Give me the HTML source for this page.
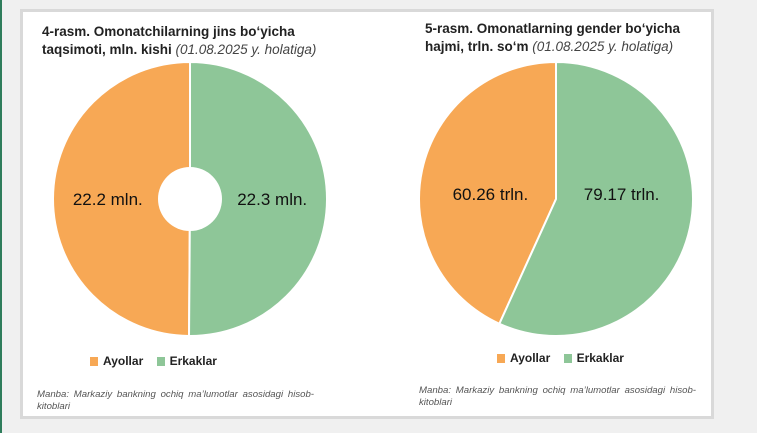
<!DOCTYPE html>
<html><head><meta charset="utf-8"><style>
body{margin:0;width:757px;height:433px;background:#f0f0f0;position:relative;overflow:hidden;font-family:"Liberation Sans",sans-serif}
#bar{position:absolute;left:0;top:0;width:2px;height:433px;background:#2f7d5c}
#panel{position:absolute;left:20px;top:9px;width:688px;height:404px;background:#fff;border:3px solid #d9d9d9}
.t{position:absolute;font-size:13.5px;font-weight:bold;color:#222;line-height:18px}
.t i{font-weight:normal;color:#444}
.src{position:absolute;font-size:9.6px;font-style:italic;color:#555;line-height:12px;width:277px;text-align:justify}
.leg{position:absolute;font-size:12px;font-weight:bold;color:#222}
.sw{display:inline-block;width:8px;height:9px;margin-right:5px;vertical-align:-1px}
svg{position:absolute;left:0;top:0}
</style></head><body>
<div id="bar"></div>
<div id="panel"></div>
<div class="t" style="left:42px;top:23px">4-rasm. Omonatchilarning jins bo‘yicha<br>taqsimoti, mln. kishi <i>(01.08.2025 y. holatiga)</i></div>
<div class="t" style="left:425px;top:20px">5-rasm. Omonatlarning gender bo‘yicha<br>hajmi, trln. so‘m <i>(01.08.2025 y. holatiga)</i></div>
<svg id="chart" width="757" height="433"></svg>
<div class="leg" style="left:90px;top:354px"><span class="sw" style="background:#f7a855"></span>Ayollar&nbsp;&nbsp;&nbsp;&nbsp;<span class="sw" style="background:#8ec698"></span>Erkaklar</div>
<div class="leg" style="left:497px;top:351px"><span class="sw" style="background:#f7a855"></span>Ayollar&nbsp;&nbsp;&nbsp;&nbsp;<span class="sw" style="background:#8ec698"></span>Erkaklar</div>
<div class="src" style="left:37px;top:389px">Manba: Markaziy bankning ochiq ma’lumotlar asosidagi hisob-kitoblari</div>
<div class="src" style="left:419px;top:385px">Manba: Markaziy bankning ochiq ma’lumotlar asosidagi hisob-kitoblari</div>
<script>
const categories=["Ayollar","Erkaklar"];
const colors=["#f7a855","#8ec698"];
const leftValues=[22.2,22.3];
const leftLabels=["22.2 mln.","22.3 mln."];
const rightValues=[60.26,79.17];
const rightLabels=["60.26 trln.","79.17 trln."];
const svg=document.getElementById('chart');
const NS="http://www.w3.org/2000/svg";
function pie(cx,cy,r,hole,vals,labels,name,ly,lf){
  const tot=vals.reduce((a,b)=>a+b,0);
  const angs=[];
  vals.forEach((v,i)=>{
    let start,end;
    if(i===0){start=-vals[0]/tot*2*Math.PI;end=0;}else{start=0;end=2*Math.PI-vals[0]/tot*2*Math.PI;}
    angs.push([start,end]);
    const p=(a)=>[cx+r*Math.sin(a),cy-r*Math.cos(a)];
    const [x1,y1]=p(start),[x2,y2]=p(end);
    const large=(end-start)>Math.PI?1:0;
    const path=document.createElementNS(NS,'path');
    path.setAttribute('d',`M${cx},${cy}L${x1},${y1}A${r},${r} 0 ${large} 1 ${x2},${y2}Z`);
    path.setAttribute('fill',colors[i]);
    path.setAttribute('stroke','#fff');
    path.setAttribute('stroke-width','2');
    
    
    svg.appendChild(path);
  });
  if(hole){
    const c=document.createElementNS(NS,'circle');
    c.setAttribute('cx',cx);c.setAttribute('cy',cy);c.setAttribute('r',hole);
    c.setAttribute('fill','#fff');
    
    
    svg.appendChild(c);
  }
  angs.forEach(([start,end],i)=>{
    const mid=(start+end)/2;
    const t=document.createElementNS(NS,'text');
    t.setAttribute('x',cx+lf*r*Math.sin(mid));
    t.setAttribute('y',ly);
    t.setAttribute('text-anchor','middle');
    t.setAttribute('font-size','17');
    t.setAttribute('font-family','Liberation Sans, sans-serif');
    t.setAttribute('fill','#111');
    t.textContent=labels[i];
    
    
    svg.appendChild(t);
  });
}
pie(190,199,137,32,leftValues,leftLabels,'left-pie',205,0.6);
pie(556,199,137,0,rightValues,rightLabels,'right-pie',200,0.49);
</script>
</body></html>
